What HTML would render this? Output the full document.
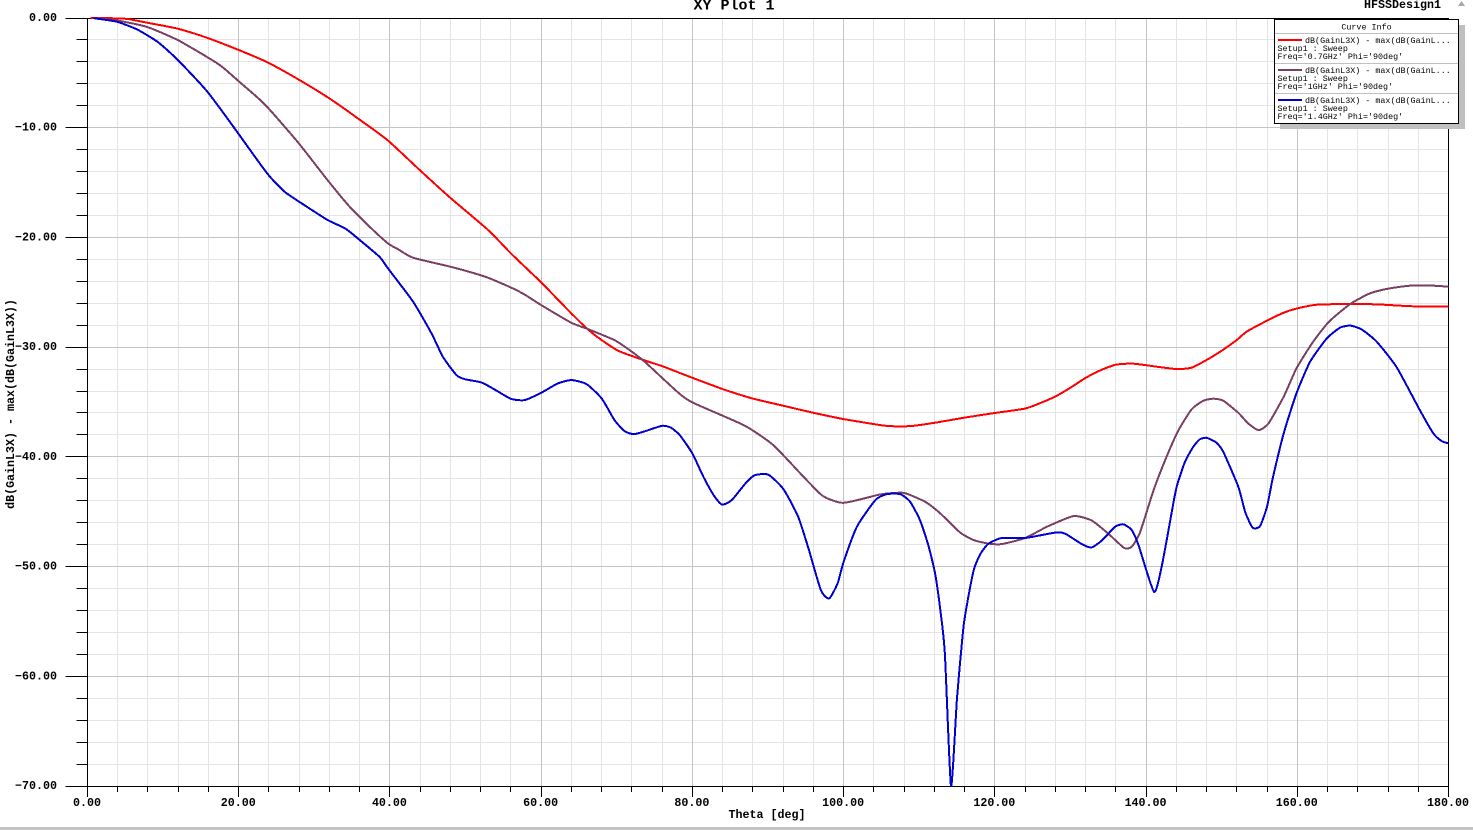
<!DOCTYPE html>
<html>
<head>
<meta charset="utf-8">
<title>XY Plot 1</title>
<style>
html,body{margin:0;padding:0;background:#fff;width:1473px;height:830px;overflow:hidden}
svg{display:block}
text{font-family:"Liberation Mono",monospace;fill:#000}
.b{font-weight:bold;font-size:11.67px}
.l{font-size:8.4px}
.t{font-weight:bold;font-size:15px}
</style>
</head>
<body>
<svg id="plot" width="1473" height="830" viewBox="0 0 1473 830" xmlns="http://www.w3.org/2000/svg">
  <rect x="0" y="0" width="1473" height="830" fill="#ffffff"/>
  <g id="grid" shape-rendering="crispEdges"></g>
  <g id="axes" shape-rendering="crispEdges"></g>
  <g id="curves"></g>
  <g id="labels"></g>
  <text class="t" x="734" y="9.5" text-anchor="middle">XY Plot 1</text>
  <text class="b" x="1364" y="8">HFSSDesign1</text>
  <polygon points="1461.5,1 1465,6 1458,6" fill="#a8a8a8"/>
  <text class="b" x="767" y="818" text-anchor="middle">Theta [deg]</text>
  <text class="b" transform="translate(14,404) rotate(-90)" text-anchor="middle">dB(GainL3X) - max(dB(GainL3X))</text>
  <g id="legend">
    <rect x="1280" y="25" width="185" height="104" fill="#c0c0c0" shape-rendering="crispEdges"/>
    <rect x="1274.5" y="19.5" width="184" height="104" fill="#ffffff" stroke="#000" stroke-width="1" shape-rendering="crispEdges"/>
    <text class="l" x="1366.5" y="29.5" text-anchor="middle">Curve Info</text>
    <g>
      <line x1="1275" x2="1458" y1="33.5" y2="33.5" stroke="#c0c0c0" shape-rendering="crispEdges"/>
      <line x1="1278" x2="1302" y1="40" y2="40" stroke="#ff0000" stroke-width="2" shape-rendering="crispEdges"/>
      <text class="l" x="1305" y="43">dB(GainL3X) - max(dB(GainL...</text>
      <text class="l" x="1277.5" y="51">Setup1 : Sweep</text>
      <text class="l" x="1277.5" y="59">Freq='0.7GHz' Phi='90deg'</text>
    </g>
    <g>
      <line x1="1275" x2="1458" y1="63.5" y2="63.5" stroke="#c0c0c0" shape-rendering="crispEdges"/>
      <line x1="1278" x2="1302" y1="70" y2="70" stroke="#7b3f63" stroke-width="2" shape-rendering="crispEdges"/>
      <text class="l" x="1305" y="73">dB(GainL3X) - max(dB(GainL...</text>
      <text class="l" x="1277.5" y="81">Setup1 : Sweep</text>
      <text class="l" x="1277.5" y="89">Freq='1GHz' Phi='90deg'</text>
    </g>
    <g>
      <line x1="1275" x2="1458" y1="93.5" y2="93.5" stroke="#c0c0c0" shape-rendering="crispEdges"/>
      <line x1="1278" x2="1302" y1="100" y2="100" stroke="#0000d0" stroke-width="2" shape-rendering="crispEdges"/>
      <text class="l" x="1305" y="103">dB(GainL3X) - max(dB(GainL...</text>
      <text class="l" x="1277.5" y="111">Setup1 : Sweep</text>
      <text class="l" x="1277.5" y="119">Freq='1.4GHz' Phi='90deg'</text>
    </g>
  </g>
  <rect x="0" y="827" width="1473" height="3" fill="#c4c4c4" shape-rendering="crispEdges"/>
</svg>
<script>
const xMajorTicks = [0, 20, 40, 60, 80, 100, 120, 140, 160, 180];
const xMinorTicks = [4, 8, 12, 16, 24, 28, 32, 36, 44, 48, 52, 56, 64, 68, 72, 76, 84, 88, 92, 96, 104, 108, 112, 116, 124, 128, 132, 136, 144, 148, 152, 156, 164, 168, 172, 176];
const yMajorTicks = [0, -10, -20, -30, -40, -50, -60, -70];
const yMinorTicks = [-2, -4, -6, -8, -12, -14, -16, -18, -22, -24, -26, -28, -32, -34, -36, -38, -42, -44, -46, -48, -52, -54, -56, -58, -62, -64, -66, -68];

const redTheta = [0.4, 3, 5.3, 7.9, 11.9, 15.9, 19.9, 23.8, 27.8, 31.7, 35.7, 39.7, 44, 48, 53, 56, 60, 64, 66.2, 68, 70.2, 73.3, 76, 79.4, 84, 87.9, 92, 96, 100, 104, 106, 108.8, 112.1, 116.1, 120, 124, 126, 128, 130, 132, 134, 136, 138, 139.2, 141.4, 144.05, 146, 148, 150, 152, 153.3, 156, 158.2, 159.9, 162.6, 167, 170.5, 173.6, 176.7, 180];
const redDb = [0, -0.02, -0.09, -0.43, -0.97, -1.82, -2.89, -4.04, -5.56, -7.2, -9.12, -11.15, -13.9, -16.4, -19.33, -21.46, -24.1, -26.93, -28.39, -29.36, -30.33, -31.12, -31.73, -32.64, -33.82, -34.67, -35.34, -35.98, -36.56, -37.01, -37.2, -37.2, -36.89, -36.41, -36, -35.6, -35.1, -34.5, -33.7, -32.8, -32.1, -31.6, -31.5, -31.57, -31.78, -32, -31.87, -31.17, -30.32, -29.35, -28.59, -27.59, -26.86, -26.49, -26.13, -26.07, -26.1, -26.22, -26.31, -26.31];

const purpleTheta = [1.5, 4, 7.9, 11.9, 15.9, 17.9, 19.9, 23.4, 27.8, 31.7, 34.8, 37.5, 39.75, 41.1, 43.06, 48, 50.8, 53, 56, 57.8, 60, 64, 66.2, 69.7, 72, 73.7, 76, 78.4, 80, 84, 87.2, 90.7, 94.7, 97.1, 98.65, 100, 102.2, 104.8, 106.6, 108.1, 110.8, 112.8, 115.4, 117.2, 119.1, 120.9, 124, 126.9, 130.4, 132.8, 135, 137.1, 138.1, 139.2, 141, 142.7, 144.3, 146.03, 147.6, 148.9, 150.2, 152.2, 153.5, 154.9, 156.2, 158.2, 159.9, 162.1, 164.2, 167, 169.6, 172, 174.9, 178, 180];
const purpleDb = [-0.03, -0.24, -0.82, -2, -3.59, -4.5, -5.71, -7.84, -11.3, -14.74, -17.3, -19.15, -20.55, -21.09, -21.85, -22.67, -23.2, -23.68, -24.56, -25.2, -26.17, -27.78, -28.36, -29.36, -30.42, -31.34, -32.8, -34.31, -35.04, -36.25, -37.26, -38.93, -41.82, -43.49, -44, -44.19, -43.88, -43.43, -43.3, -43.3, -44.1, -45.16, -46.89, -47.59, -47.9, -47.95, -47.4, -46.37, -45.4, -45.8, -47, -48.3, -48.2, -46.89, -43.03, -40, -37.56, -35.67, -34.88, -34.7, -34.88, -35.98, -36.95, -37.56, -36.95, -34.52, -31.93, -29.5, -27.68, -26.07, -25.1, -24.67, -24.4, -24.4, -24.49];

const blueTheta = [0.8, 2.2, 4, 6.6, 9.3, 11.9, 15.9, 19.9, 23.8, 26, 27.8, 31.7, 34, 35.7, 38.6, 39.75, 43.06, 45.5, 47, 48.8, 49.9, 52.1, 54, 56, 57.8, 60, 62.2, 64, 66, 68, 69.7, 71.05, 72.2, 73.5, 76, 77.2, 78.4, 80, 81.46, 82.8, 83.9, 85.2, 87.2, 88.3, 90.05, 92.04, 94, 95.35, 97, 98.1, 99.2, 100, 101.74, 104.2, 105.7, 107.5, 108.8, 110.1, 111.2, 112.1, 112.8, 113.4, 114.2, 115, 115.8, 116.3, 117.2, 118.05, 119.1, 120.9, 124, 128, 129.3, 131.5, 132.8, 134.2, 135.9, 137, 138.1, 139, 141.05, 142.07, 143.2, 144.05, 145.15, 146.25, 147.1, 148, 149.25, 150.2, 152.2, 153.1, 154.1, 155.07, 156, 156.8, 158.2, 159.9, 161.7, 163.9, 165.65, 167, 168.5, 170.5, 173.15, 176.2, 178, 179.1, 180];
const blueDb = [-0.01, -0.15, -0.36, -1.06, -2.19, -3.8, -6.75, -10.49, -14.2, -15.8, -16.66, -18.39, -19.15, -20.06, -21.76, -22.83, -25.86, -28.75, -30.88, -32.55, -32.92, -33.22, -33.92, -34.71, -34.83, -34.16, -33.31, -33, -33.37, -34.68, -36.65, -37.66, -37.93, -37.72, -37.17, -37.35, -38.08, -39.69, -41.82, -43.49, -44.34, -43.94, -42.27, -41.66, -41.63, -42.94, -45.46, -48.35, -52.15, -52.9, -51.54, -49.57, -46.38, -43.94, -43.4, -43.4, -44.1, -45.77, -48.05, -50.63, -54, -58, -70, -62, -55.8, -53.5, -50.33, -48.9, -47.95, -47.4, -47.4, -46.9, -47, -47.95, -48.25, -47.6, -46.37, -46.15, -46.67, -48.04, -52.3, -50, -45.77, -42.72, -40.45, -39.08, -38.41, -38.26, -38.68, -39.53, -42.72, -45, -46.46, -46.31, -44.55, -41.81, -37.86, -34.2, -31.33, -29.2, -28.23, -28.04, -28.38, -29.5, -31.84, -35.73, -37.86, -38.56, -38.77];

const X0 = 87.5, X1 = 1448.5, Y0 = 18, Y1 = 786;
const xScale = function (theta) { return X0 + (theta / 180) * (X1 - X0); };
const yScale = function (db) { return Y0 + (-db / 70) * (Y1 - Y0); };
const NS = 'http://www.w3.org/2000/svg';

function make(tag, parent, attrs, text) {
  const el = document.createElementNS(NS, tag);
  for (const k in attrs) el.setAttribute(k, attrs[k]);
  if (text !== undefined) el.textContent = text;
  parent.appendChild(el);
  return el;
}
function snap(v) { return Math.floor(v) + 0.5; }

const grid = document.getElementById('grid');
const axes = document.getElementById('axes');
const labels = document.getElementById('labels');
const curves = document.getElementById('curves');

xMinorTicks.forEach(function (t) {
  const g = make('line', grid, { x1: snap(xScale(t)), x2: snap(xScale(t)), y1: Y0, y2: Y1, stroke: '#e4e4e4' });
  
  
  const m = make('line', axes, { x1: snap(xScale(t)), x2: snap(xScale(t)), y1: Y1, y2: Y1 + 6, stroke: '#000' });
  
  
});
yMinorTicks.forEach(function (d) {
  const g = make('line', grid, { x1: X0, x2: X1, y1: snap(yScale(d)), y2: snap(yScale(d)), stroke: '#e4e4e4' });
  
  
  const m = make('line', axes, { x1: X0 - 11, x2: X0, y1: snap(yScale(d)), y2: snap(yScale(d)), stroke: '#000' });
  
  
});
xMajorTicks.forEach(function (t) {
  const g = make('line', grid, { x1: snap(xScale(t)), x2: snap(xScale(t)), y1: Y0, y2: Y1, stroke: '#c4c4c4' });
  
  
  const m = make('line', axes, { x1: snap(xScale(t)), x2: snap(xScale(t)), y1: Y1, y2: Y1 + 11, stroke: '#000' });
  
  
  const l = make('text', labels, { x: xScale(t) - 0.5, y: 806, 'text-anchor': 'middle', 'class': 'b' }, t.toFixed(2));
  
  
});
yMajorTicks.forEach(function (d) {
  const g = make('line', grid, { x1: X0, x2: X1, y1: snap(yScale(d)), y2: snap(yScale(d)), stroke: '#c4c4c4' });
  
  
  const m = make('line', axes, { x1: X0 - 22, x2: X0, y1: snap(yScale(d)), y2: snap(yScale(d)), stroke: '#000' });
  
  
  const txt = d === 0 ? '0.00' : '\u2212' + Math.abs(d).toFixed(2);
  const l = make('text', labels, { x: 57, y: yScale(d) + 3, 'text-anchor': 'end', 'class': 'b' }, txt);
  
  
});

const leftAxis = make('line', axes, { x1: snap(X0), x2: snap(X0), y1: Y0, y2: Y1 + 11, stroke: '#000' });


const rightAxis = make('line', axes, { x1: snap(X1), x2: snap(X1), y1: Y0, y2: Y1 + 11, stroke: '#000' });


const topAxis = make('line', axes, { x1: X0, x2: X1, y1: 18.5, y2: 18.5, stroke: '#000' });


const bottomAxis = make('line', axes, { x1: X0, x2: X1, y1: Y1 + 0.5, y2: Y1 + 0.5, stroke: '#000' });



function curvePath(ts, ds) {
  const p = ts.map(function (t, i) { return [xScale(t), yScale(ds[i])]; });
  let d = 'M' + p[0][0].toFixed(1) + ' ' + p[0][1].toFixed(1);
  for (let i = 0; i < p.length - 1; i++) {
    const a = p[Math.max(i - 1, 0)], b = p[i], c = p[i + 1], e = p[Math.min(i + 2, p.length - 1)];
    const k = 0.1;
    d += 'C' + (b[0] + (c[0] - a[0]) * k).toFixed(1) + ' ' + (b[1] + (c[1] - a[1]) * k).toFixed(1) + ' ' +
         (c[0] - (e[0] - b[0]) * k).toFixed(1) + ' ' + (c[1] - (e[1] - b[1]) * k).toFixed(1) + ' ' +
         c[0].toFixed(1) + ' ' + c[1].toFixed(1);
  }
  return d;
}

const redCurve = make('path', curves, { d: curvePath(redTheta, redDb), fill: 'none', stroke: '#ff0000', 'stroke-width': 2, 'shape-rendering': 'crispEdges' });


const purpleCurve = make('path', curves, { d: curvePath(purpleTheta, purpleDb), fill: 'none', stroke: '#7b3f63', 'stroke-width': 2, 'shape-rendering': 'crispEdges' });


const blueCurve = make('path', curves, { d: curvePath(blueTheta, blueDb), fill: 'none', stroke: '#0000d0', 'stroke-width': 2, 'shape-rendering': 'crispEdges' });


</script>
</body>
</html>
